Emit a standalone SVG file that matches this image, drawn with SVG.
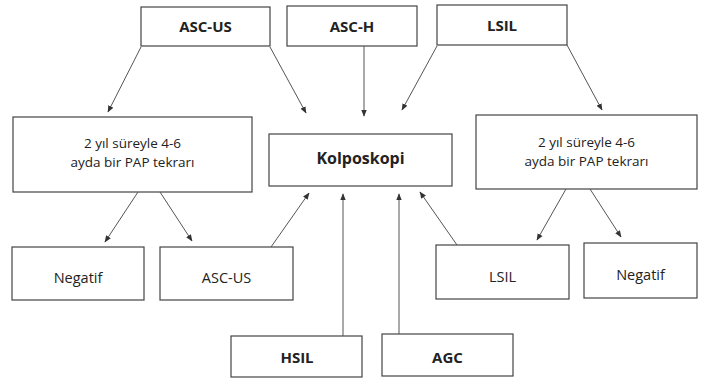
<svg xmlns="http://www.w3.org/2000/svg" width="708" height="383" viewBox="0 0 708 383">
<defs>
<marker id="ah" viewBox="0 0 10 10" refX="9" refY="5" markerWidth="7" markerHeight="7" orient="auto" markerUnits="userSpaceOnUse">
<path d="M0,1 L10,5 L0,9 Z" fill="#333"/>
</marker>
<style>
.box{fill:#fff;stroke:#444;stroke-width:1.2}
.t{font-family:"Open Sans","Noto Sans",sans-serif;font-size:13.5px;fill:#222;text-anchor:middle}
.s{font-size:14.5px}
.b{font-weight:bold;font-size:15px}
.k{font-size:16px}
.c line{stroke:#555;stroke-width:1;marker-end:url(#ah)}
</style>
</defs>
<rect width="708" height="383" fill="#fff"/>
<g id="ascus-top"><rect class="box" x="141" y="7" width="129" height="39"/><text class="t b" x="205.5" y="32">ASC-US</text></g>
<g id="asch"><rect class="box" x="287" y="6" width="130" height="40"/><text class="t b" x="352" y="32">ASC-H</text></g>
<g id="lsil-top"><rect class="box" x="437" y="5" width="130" height="40"/><text class="t b" x="502" y="31">LSIL</text></g>
<g id="pap-left"><rect class="box" x="13" y="117" width="239" height="75"/><text class="t" x="132.5" y="148">2 yıl süreyle 4-6</text><text class="t" x="132.5" y="167">ayda bir PAP tekrarı</text></g>
<g id="kolposkopi"><rect class="box" x="269" y="134" width="183" height="52"/><text class="t b k" x="360.5" y="164">Kolposkopi</text></g>
<g id="pap-right"><rect class="box" x="476" y="115" width="221" height="74"/><text class="t" x="586.5" y="147">2 yıl süreyle 4-6</text><text class="t" x="586.5" y="166">ayda bir PAP tekrarı</text></g>
<g id="negatif-left"><rect class="box" x="12" y="247" width="132" height="53"/><text class="t s" x="78" y="283">Negatif</text></g>
<g id="ascus-bottom"><rect class="box" x="160" y="247" width="133" height="53"/><text class="t s" x="226.5" y="283">ASC-US</text></g>
<g id="lsil-bottom"><rect class="box" x="436" y="245" width="133" height="54"/><text class="t s" x="502.5" y="282">LSIL</text></g>
<g id="negatif-right"><rect class="box" x="584" y="243" width="113" height="55"/><text class="t s" x="640.5" y="280">Negatif</text></g>
<g id="hsil"><rect class="box" x="231" y="336" width="131" height="41"/><text class="t b" x="297" y="363">HSIL</text></g>
<g id="agc"><rect class="box" x="382" y="334" width="131" height="42"/><text class="t b" x="447.5" y="363">AGC</text></g>
<g class="c" id="connectors">
<line x1="141" y1="47" x2="108" y2="112"/>
<line x1="270" y1="47" x2="306" y2="113"/>
<line x1="364" y1="46" x2="364" y2="116"/>
<line x1="437" y1="46" x2="402" y2="110"/>
<line x1="567" y1="45" x2="602" y2="110"/>
<line x1="138" y1="192" x2="105" y2="242"/>
<line x1="160" y1="192" x2="192" y2="241"/>
<line x1="271" y1="247" x2="309" y2="193"/>
<line x1="343" y1="336" x2="343" y2="194"/>
<line x1="399" y1="334" x2="399" y2="194"/>
<line x1="457" y1="245" x2="420" y2="192"/>
<line x1="566" y1="189" x2="537" y2="240"/>
<line x1="590" y1="189" x2="621" y2="237"/>
</g>
</svg>
